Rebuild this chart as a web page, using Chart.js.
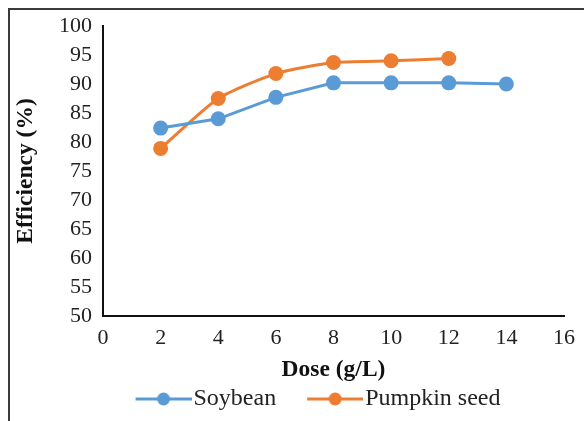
<!DOCTYPE html>
<html><head><meta charset="utf-8">
<script src="https://cdn.jsdelivr.net/npm/chart.js@4/dist/chart.umd.min.js"></script>
<style>html,body{margin:0;padding:0;background:#fff}#wrap{width:584px;height:421px}</style>
</head><body><div id="wrap"><canvas id="c" width="584" height="421"></canvas></div>
<script>
const doses = [2, 4, 6, 8, 10, 12, 14];
const soybean = [82.4, 84.0, 87.7, 90.2, 90.2, 90.2, 90.0];
const pumpkinSeed = [78.9, 87.5, 91.8, 93.7, 94.0, 94.4];
const seriesNames = ['Soybean', 'Pumpkin seed'];
const seriesColors = ['#5B9BD5', '#ED7D31'];
const xTitle = 'Dose (g/L)';
const yTitle = 'Efficiency (%)';

function marker(color) {
  const M = 31;
  const c = document.createElement('canvas');
  c.width = 56 + M; c.height = 16;
  const g = c.getContext('2d');
  g.strokeStyle = color; g.lineWidth = 3;
  g.beginPath(); g.moveTo(M, 8); g.lineTo(M + 56, 8); g.stroke();
  g.fillStyle = color; g.beginPath(); g.arc(M + 28, 8, 6.5, 0, Math.PI * 2); g.fill();
  return c;
}

const frame = {
  id: 'frame',
  beforeDraw(chart) {
    const ctx = chart.ctx;
    ctx.save();
    ctx.fillStyle = '#fff';
    ctx.fillRect(0, 0, chart.width, chart.height);
    ctx.strokeStyle = '#3a3a3a'; ctx.lineWidth = 2;
    ctx.beginPath(); ctx.moveTo(9, chart.height); ctx.lineTo(9, 9); ctx.lineTo(chart.width, 9); ctx.stroke();
    ctx.restore();
  }
};

const fam = '"Liberation Serif", "Times New Roman", serif';
const tickFont = { family: fam, size: 22 };
const legendFont = { family: fam, size: 24 };
const titleFont = { family: fam, size: 23.5, weight: 'bold' };

new Chart(document.getElementById('c'), {
  type: 'line',
  data: {
    datasets: [
      { label: seriesNames[0], data: doses.map((d, i) => ({ x: d, y: soybean[i] })),
        borderColor: seriesColors[0], backgroundColor: seriesColors[0], borderWidth: 3,
        pointRadius: 7.5, pointHoverRadius: 7.5, pointStyle: 'circle', tension: 0, pointBorderWidth: 0 },
      { label: seriesNames[1], data: pumpkinSeed.map((v, i) => ({ x: doses[i], y: v })),
        borderColor: seriesColors[1], backgroundColor: seriesColors[1], borderWidth: 3,
        pointRadius: 7.5, pointHoverRadius: 7.5, pointStyle: 'circle', tension: 0.2, pointBorderWidth: 0 }
    ]
  },
  options: {
    responsive: false, animation: false,
    layout: { padding: { left: 48, right: 17, top: 26, bottom: 0 } },
    plugins: {
      tooltip: { enabled: false },
      legend: {
        position: 'bottom', align: 'center',
        labels: {
          usePointStyle: true, pointStyleWidth: 67, padding: 10,
          color: '#222', font: legendFont,
          generateLabels(chart) {
            return chart.data.datasets.map((ds, i) => ({
              text: ds.label, pointStyle: marker(seriesColors[i]), fillStyle: seriesColors[i],
              strokeStyle: seriesColors[i], lineWidth: 0, datasetIndex: i, hidden: false, fontColor: '#222'
            }));
          }
        }
      }
    },
    scales: {
      x: {
        type: 'linear', min: 0, max: 16,
        grid: { display: false, drawTicks: false },
        border: { display: true, color: '#111', width: 2 },
        ticks: { stepSize: 2, padding: 9, color: '#222', font: tickFont, autoSkip: false },
        title: { display: true, text: xTitle, color: '#111', padding: { top: 0, bottom: -7 }, font: titleFont },
        afterFit(s) { s.height = 61; }
      },
      y: {
        min: 50, max: 100,
        grid: { display: false, drawTicks: false },
        border: { display: true, color: '#111', width: 2 },
        ticks: { stepSize: 5, padding: 11, color: '#222', font: tickFont, autoSkip: false },
        title: { display: true, text: yTitle, color: '#111', padding: { top: -36, bottom: 0 }, font: titleFont },
        afterFit(s) { s.width = 55; }
      }
    }
  },
  plugins: [frame]
});
</script></body></html>
